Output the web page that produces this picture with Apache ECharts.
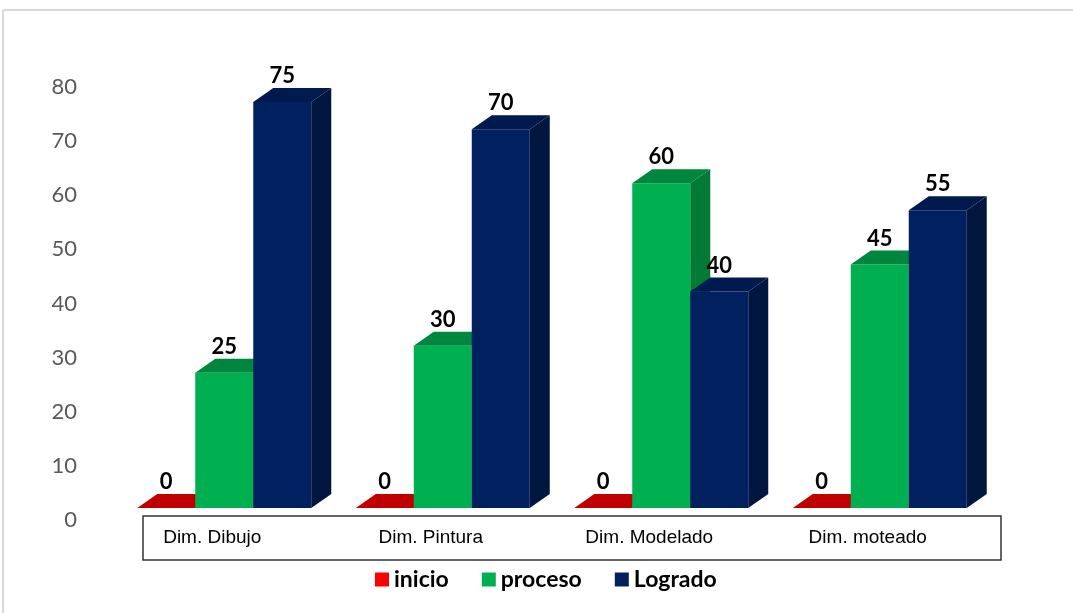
<!DOCTYPE html>
<html>
<head>
<meta charset="utf-8">
<script src="https://cdn.jsdelivr.net/npm/echarts@6/dist/echarts.min.js"></script>
<style>html,body{margin:0;padding:0;background:#fff;}#c{width:1073px;height:613px;}</style>
</head>
<body>
<div id="c"></div>
<script>
const categories = ['Dim. Dibujo', 'Dim. Pintura', 'Dim. Modelado', 'Dim. moteado'];
const seriesNames = ['inicio', 'proceso', 'Logrado'];
const inicio = [0, 0, 0, 0];
const proceso = [25, 30, 60, 45];
const logrado = [75, 70, 40, 55];
const yTicks = [0, 10, 20, 30, 40, 50, 60, 70, 80];

const palettes = [
  { legend: '#FF0000', front: '#C00000', top: '#C00000', side: '#900000' },
  { legend: '#00B050', front: '#00B050', top: '#00863D', side: '#007A35' },
  { legend: '#002060', front: '#002060', top: '#001A50', side: '#00163E' }
];
const LIFT = 12, DEPTH_Y = 14, BAR_FRAC = 58 / 218.5;

function makeRender(si) {
  const pal = palettes[si];
  return function (params, api) {
    const cat = api.value(0), v = api.value(1);
    const p = api.coord([cat, v]);
    const p0 = api.coord([cat, 0]);
    const bw = api.size([1, 0])[0] * BAR_FRAC;
    const dx = bw * 0.345, dy = DEPTH_Y;
    const x0 = p[0] + (si - 1) * bw - bw / 2, x1 = x0 + bw;
    const yT = p[1] - LIFT, yB = p0[1] - LIFT;
    const children = [];
    if (yB - yT > 0.5) {
      children.push({ type: 'rect', shape: { x: x0, y: yT, width: bw, height: yB - yT }, style: { fill: pal.front } });
      children.push({ type: 'polygon', shape: { points: [[x1, yT], [x1 + dx, yT - dy], [x1 + dx, yB - dy], [x1, yB]] }, style: { fill: pal.side } });
    }
    children.push({ type: 'polygon', shape: { points: [[x0, yT], [x1, yT], [x1 + dx, yT - dy], [x0 + dx, yT - dy]] }, style: { fill: pal.top } });
    children.push({ type: 'text', z2: 100, style: { text: String(v), x: (x0 + x1) / 2, y: yT - dy - 12, align: 'center', verticalAlign: 'middle', font: 'bold 22px Lato', fill: '#000' } });
    return { type: 'group', children: children };
  };
}

const dataArrays = [inicio, proceso, logrado];
const chart = echarts.init(document.getElementById('c'));
chart.setOption({
  animation: false,
  backgroundColor: '#fff',
  grid: { left: 115, right: 84, top: 87, bottom: 93 },
  xAxis: {
    type: 'category', data: categories,
    axisLine: { show: false }, axisTick: { show: false },
    axisLabel: { margin: 8, fontFamily: 'Liberation Sans', fontSize: 19, color: '#000', padding: [0, 24, 0, 0] }
  },
  yAxis: {
    type: 'value', min: yTicks[0], max: yTicks[yTicks.length - 1], interval: 10,
    axisLine: { show: false }, axisTick: { show: false }, splitLine: { show: false },
    axisLabel: { margin: 38, fontFamily: 'Lato', fontSize: 22, color: '#595959' }
  },
  legend: {
    left: 375, top: 568, padding: 0, icon: 'rect', itemWidth: 14, itemHeight: 14, itemGap: 33,
    data: seriesNames,
    textStyle: { fontFamily: 'Lato', fontWeight: 'bold', fontSize: 23, color: '#000' }
  },
  graphic: [
    { type: 'line', shape: { x1: 3, y1: 10, x2: 1073, y2: 10 }, style: { stroke: '#D9D9D9', lineWidth: 2 } },
    { type: 'line', shape: { x1: 3, y1: 10, x2: 3, y2: 613 }, style: { stroke: '#D9D9D9', lineWidth: 2 } },
    { type: 'rect', z: -1, shape: { x: 143, y: 516, width: 858, height: 44 }, style: { fill: 'none', stroke: '#333', lineWidth: 1.5 } }
  ],
  series: seriesNames.map((name, si) => ({
    type: 'custom', name: name,
    color: palettes[si].legend,
    itemStyle: { color: palettes[si].legend },
    renderItem: makeRender(si),
    encode: { x: 0, y: 1 },
    data: dataArrays[si].map((v, i) => [i, v])
  }))
});
</script>
</body>
</html>
